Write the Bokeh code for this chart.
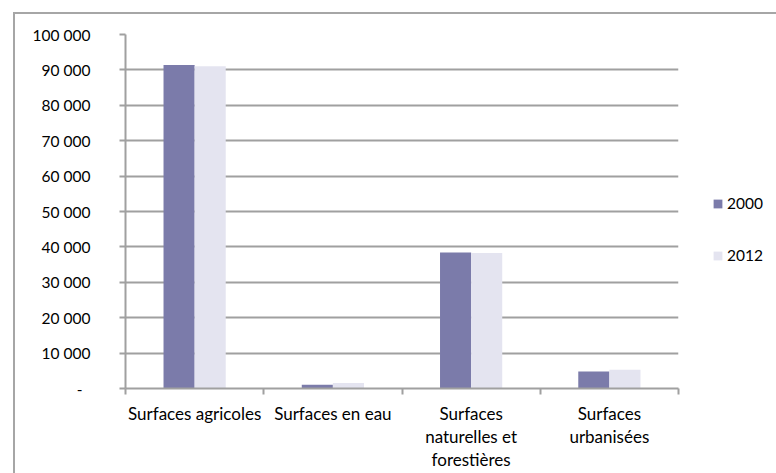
from bokeh.plotting import figure
from bokeh.models import (ColumnDataSource, FixedTicker, Legend, LegendItem, Range1d)
from bokeh.embed import file_html
from bokeh.resources import INLINE

categories = ["Surfaces agricoles", "Surfaces en eau",
              "Surfaces\nnaturelles et\nforestières", "Surfaces\nurbanisées"]
values_2000 = [91400, 1050, 38400, 4800]
values_2012 = [91000, 1550, 38300, 5300]
y_ticks = [0, 10000, 20000, 30000, 40000, 50000, 60000, 70000, 80000, 90000, 100000]
y_tick_labels = ["-\u00a0\u00a0", "10 000", "20 000", "30 000", "40 000", "50 000",
                 "60 000", "70 000", "80 000", "90 000", "100 000"]

FONT = "Lato"
C2000 = "#7B7BAA"
C2012 = "#E4E4F0"
GRID = "#A0A0A0"

bar_w = 0.225
idx = list(range(len(categories)))
src = ColumnDataSource(dict(
    x0=[i + 0.5 - bar_w / 2 for i in idx],
    x1=[i + 0.5 + bar_w / 2 for i in idx],
    v2000=values_2000,
    v2012=values_2012,
))

p = figure(width=761, height=459, output_backend="svg", toolbar_location=None,
           x_range=Range1d(0, len(categories)), y_range=Range1d(0, 100000),
           min_border_left=110, min_border_right=98, min_border_top=20,
           min_border_bottom=85,
           margin=(12, 0, 0, 13),
           styles={"border-top": "2px solid #A6A6A6", "border-left": "2px solid #A6A6A6"})
p.frame_width = 553
p.frame_height = 354
p.outline_line_color = None
p.background_fill_color = "white"
p.border_fill_color = "white"

r1 = p.vbar(x="x0", top="v2000", width=bar_w, source=src, fill_color=C2000, line_color=None)
r2 = p.vbar(x="x1", top="v2012", width=bar_w, source=src, fill_color=C2012, line_color=None)

# x axis
xa = p.xaxis[0]
xa.ticker = FixedTicker(ticks=[i + 0.5 for i in idx], minor_ticks=list(range(len(categories) + 1)))
xa.major_label_overrides = {i + 0.5: c for i, c in zip(idx, categories)}
xa.major_tick_out = 0
xa.major_tick_in = 0
xa.minor_tick_out = 6
xa.minor_tick_in = 0
xa.minor_tick_line_color = GRID
xa.minor_tick_line_width = 2
xa.axis_line_color = GRID
xa.axis_line_width = 2
xa.major_label_standoff = 8
xa.major_label_text_font = FONT
xa.major_label_text_font_size = "17px"
xa.major_label_text_color = "#000000"
xa.major_label_text_line_height = 1.1

# y axis
ya = p.yaxis[0]
ya.ticker = FixedTicker(ticks=y_ticks)
ya.major_label_overrides = {t: l for t, l in zip(y_ticks, y_tick_labels)}
ya.major_tick_out = 6
ya.major_tick_in = 0
ya.minor_tick_line_color = None
ya.major_tick_line_color = GRID
ya.major_tick_line_width = 2
ya.axis_line_color = GRID
ya.axis_line_width = 2
ya.major_label_standoff = 29
ya.major_label_text_font = FONT
ya.major_label_text_font_size = "15.5px"
ya.major_label_text_color = "#000000"

p.xgrid.grid_line_color = None
p.ygrid.ticker = FixedTicker(ticks=y_ticks[1:])
p.ygrid.grid_line_color = GRID
p.ygrid.grid_line_width = 2

legend = Legend(items=[LegendItem(label="2000", renderers=[r1]),
                       LegendItem(label="2012", renderers=[r2])],
                location=(34, 124))
legend.glyph_width = 11
legend.glyph_height = 11
legend.label_height = 11
legend.spacing = 34
legend.padding = 0
legend.margin = 0
legend.border_line_color = None
legend.background_fill_alpha = 0
legend.label_text_font = FONT
legend.label_text_font_size = "15.5px"
legend.label_text_color = "#000000"
legend.label_standoff = 4
p.add_layout(legend, "right")

open("out.html", "w").write(file_html(p, INLINE))
